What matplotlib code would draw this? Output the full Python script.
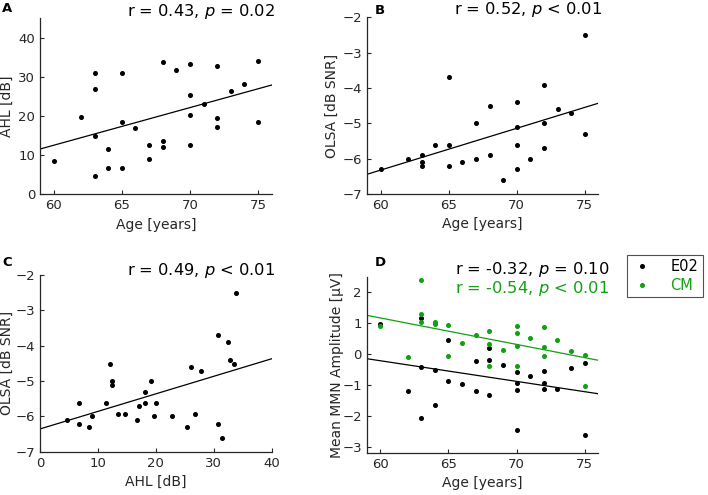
import numpy as np
import matplotlib
matplotlib.use("Agg")
import matplotlib.pyplot as plt

# ---------------- data ----------------
age_a = [60, 62, 63, 63, 63, 63, 64, 64, 65, 65, 65, 66, 67, 67, 68, 68, 68,
         69, 70, 70, 70, 70, 71, 72, 72, 72, 73, 74, 75, 75]
ahl_a = [8.6, 19.8, 31.0, 27.0, 14.8, 4.7, 11.5, 6.8, 31.0, 18.4, 6.8, 16.9,
         12.6, 9.0, 33.8, 13.7, 12.2, 31.7, 33.2, 25.5, 20.2, 12.6, 23.1, 32.7,
         19.5, 17.3, 26.3, 28.1, 34.2, 18.4]

age_b = [60, 62, 63, 63, 63, 64, 65, 65, 65, 66, 67, 67, 68, 68, 69, 70, 70,
         70, 70, 71, 72, 72, 72, 73, 74, 75, 75]
olsa_b = [-6.30, -6.00, -5.90, -6.10, -6.21, -5.60, -3.69, -5.60, -6.21, -6.10,
          -5.00, -6.00, -4.50, -5.90, -6.60, -4.39, -5.10, -5.60, -6.30, -6.00,
          -3.90, -5.00, -5.71, -4.60, -4.70, -2.50, -5.30]

ahl_c = [4.6, 6.8, 6.8, 8.5, 8.9, 11.4, 12.1, 12.5, 12.5, 13.5, 14.7, 16.8,
         17.1, 18.2, 18.2, 19.2, 19.6, 20.0, 22.8, 25.3, 26.0, 26.7, 27.8,
         30.7, 30.7, 31.4, 32.5, 32.8, 33.5, 33.9]
olsa_c = [-6.11, -5.61, -6.21, -6.31, -6.00, -5.61, -4.51, -5.01, -5.11, -5.92,
          -5.92, -6.11, -5.72, -5.31, -5.61, -5.01, -6.00, -5.61, -6.00, -6.31,
          -4.61, -5.92, -4.71, -3.71, -6.21, -6.61, -3.91, -4.41, -4.51, -2.51]

age_e02 = [60, 62, 63, 63, 63, 64, 64, 65, 65, 66, 67, 67, 68, 68, 68, 69,
           70, 70, 70, 70, 71, 72, 72, 72, 73, 74, 75, 75]
mmn_e02 = [0.96, -1.21, 1.16, -0.41, -2.07, -0.52, -1.66, 0.47, -0.86, -0.97,
           -0.23, -1.20, 0.21, -0.20, -1.32, -0.37, -0.59, -0.93, -1.16, -2.46,
           -0.71, -0.54, -0.93, -1.14, -1.13, -0.46, -0.29, -2.61]

age_cm = [60, 62, 63, 63, 63, 64, 64, 65, 65, 66, 67, 68, 68, 68, 69, 70, 70,
          70, 70, 71, 72, 72, 72, 73, 74, 75, 75]
mmn_cm = [0.92, -0.11, 2.41, 1.31, 1.03, 1.05, 0.98, 0.93, -0.06, 0.36, 0.63,
          0.74, 0.31, -0.38, 0.13, 0.91, 0.69, 0.26, -0.38, 0.51, 0.88, 0.23,
          -0.07, 0.47, 0.10, -0.04, -1.02]

stats_a = "r = 0.43, $\\it{p}$ = 0.02"
stats_b = "r = 0.52, $\\it{p}$ < 0.01"
stats_c = "r = 0.49, $\\it{p}$ < 0.01"
stats_d_e02 = "r = -0.32, $\\it{p}$ = 0.10"
stats_d_cm = "r = -0.54, $\\it{p}$ < 0.01"

# ---------------- style ----------------
GREEN = "#12a012"
AXC = "#262626"
plt.rcParams["font.family"] = ["DejaVu Sans"]
plt.rcParams["mathtext.fontset"] = "dejavusans"

W, H = 708, 495
fig = plt.figure(figsize=(W / 100, H / 100), dpi=100)

LABEL_FS = 10
TITLE_FS = 11.7


def make_ax(x0, x1, ytop, ybot):
    return fig.add_axes([x0 / W, 1 - ybot / H, (x1 - x0) / W, (ybot - ytop) / H])


def style(ax):
    for s in ["top", "right"]:
        ax.spines[s].set_visible(False)
    for s in ["left", "bottom"]:
        ax.spines[s].set_color(AXC)
        ax.spines[s].set_linewidth(0.9)
    ax.tick_params(direction="in", length=3, width=0.8, colors=AXC,
                   labelsize=9.5, labelcolor=AXC)


def scatter_fit(ax, x, y, xlim, color):
    ax.plot(x, y, "o", color=color, markersize=2.6, linestyle="none")
    k, b = np.polyfit(x, y, 1)
    xx = np.array(xlim, dtype=float)
    ax.plot(xx, k * xx + b, color=color, linewidth=0.9)


# Panel A
axA = make_ax(40, 271.7, 18.3, 194.3)
style(axA)
scatter_fit(axA, age_a, ahl_a, (59, 76), "black")
axA.set_xlim(59, 76)
axA.set_ylim(0, 45)
axA.set_xticks([60, 65, 70, 75])
axA.set_yticks([0, 10, 20, 30, 40])
axA.set_xlabel("Age [years]", fontsize=LABEL_FS, color=AXC)
axA.set_ylabel("AHL [dB]", fontsize=LABEL_FS, color=AXC)
axA.yaxis.set_label_coords((14 - 40) / 231.7, 0.5)

# Panel B
axB = make_ax(367.1, 598.3, 17.4, 194.0)
style(axB)
scatter_fit(axB, age_b, olsa_b, (59, 76), "black")
axB.set_xlim(59, 76)
axB.set_ylim(-7, -2)
axB.set_xticks([60, 65, 70, 75])
axB.set_yticks([-7, -6, -5, -4, -3, -2])
axB.set_xlabel("Age [years]", fontsize=LABEL_FS, color=AXC)
axB.set_ylabel("OLSA [dB SNR]", fontsize=LABEL_FS, color=AXC)
axB.yaxis.set_label_coords((339 - 367.1) / 231.2, 0.5)

# Panel C
axC = make_ax(40, 271.7, 275.0, 451.7)
style(axC)
scatter_fit(axC, ahl_c, olsa_c, (0, 40), "black")
axC.set_xlim(0, 40)
axC.set_ylim(-7, -2)
axC.set_xticks([0, 10, 20, 30, 40])
axC.set_yticks([-7, -6, -5, -4, -3, -2])
axC.set_xlabel("AHL [dB]", fontsize=LABEL_FS, color=AXC)
axC.set_ylabel("OLSA [dB SNR]", fontsize=LABEL_FS, color=AXC)
axC.yaxis.set_label_coords((14 - 40) / 231.7, 0.5)

# Panel D
axD = make_ax(366.7, 598.3, 276.8, 452.9)
style(axD)
scatter_fit(axD, age_e02, mmn_e02, (59, 76), "black")
scatter_fit(axD, age_cm, mmn_cm, (59, 76), GREEN)
axD.set_xlim(59, 76)
axD.set_ylim(-3.2, 2.5)
axD.set_xticks([60, 65, 70, 75])
axD.set_yticks([-3, -2, -1, 0, 1, 2])
axD.set_xlabel("Age [years]", fontsize=LABEL_FS, color=AXC)
axD.set_ylabel("Mean MMN Amplitude [µV]", fontsize=LABEL_FS, color=AXC)
axD.yaxis.set_label_coords((344 - 366.7) / 231.6, 0.5)

# legend
h1, = axD.plot([], [], "o", color="black", markersize=2.6, linestyle="none")
h2, = axD.plot([], [], "o", color=GREEN, markersize=2.6, linestyle="none")
leg = axD.legend([h1, h2], ["E02", "CM"], loc="upper left",
                 bbox_to_anchor=(626.7 / W, 1 - 255 / H),
                 bbox_transform=fig.transFigure, fontsize=10.5,
                 frameon=True, fancybox=False, borderpad=0.3,
                 labelspacing=0.25, handletextpad=1.2, handlelength=1.5,
                 borderaxespad=0)
leg.get_frame().set_edgecolor(AXC)
leg.get_frame().set_linewidth(0.8)
for t, c in zip(leg.get_texts(), ["black", GREEN]):
    t.set_color(c)

# stats texts
axA.text(1.014, 1.036, stats_a, transform=axA.transAxes, ha="right",
         va="center", fontsize=TITLE_FS, color="black")
axB.text(1.015, 1.042, stats_b, transform=axB.transAxes, ha="right",
         va="center", fontsize=TITLE_FS, color="black")
axC.text(1.014, 1.024, stats_c, transform=axC.transAxes, ha="right",
         va="center", fontsize=TITLE_FS, color="black")
axD.text(1.047, 1.04, stats_d_e02, transform=axD.transAxes, ha="right",
         va="center", fontsize=TITLE_FS, color="black")
axD.text(1.047, 0.935, stats_d_cm, transform=axD.transAxes, ha="right",
         va="center", fontsize=TITLE_FS, color=GREEN)

# panel letters
for lab, (x, y) in {"A": (7, 9), "B": (380, 10), "C": (7, 262), "D": (380, 262)}.items():
    fig.text(x / W, 1 - y / H, lab, fontsize=9.5, fontweight="bold",
             ha="center", va="center")

fig.savefig("out.png", dpi=100)
